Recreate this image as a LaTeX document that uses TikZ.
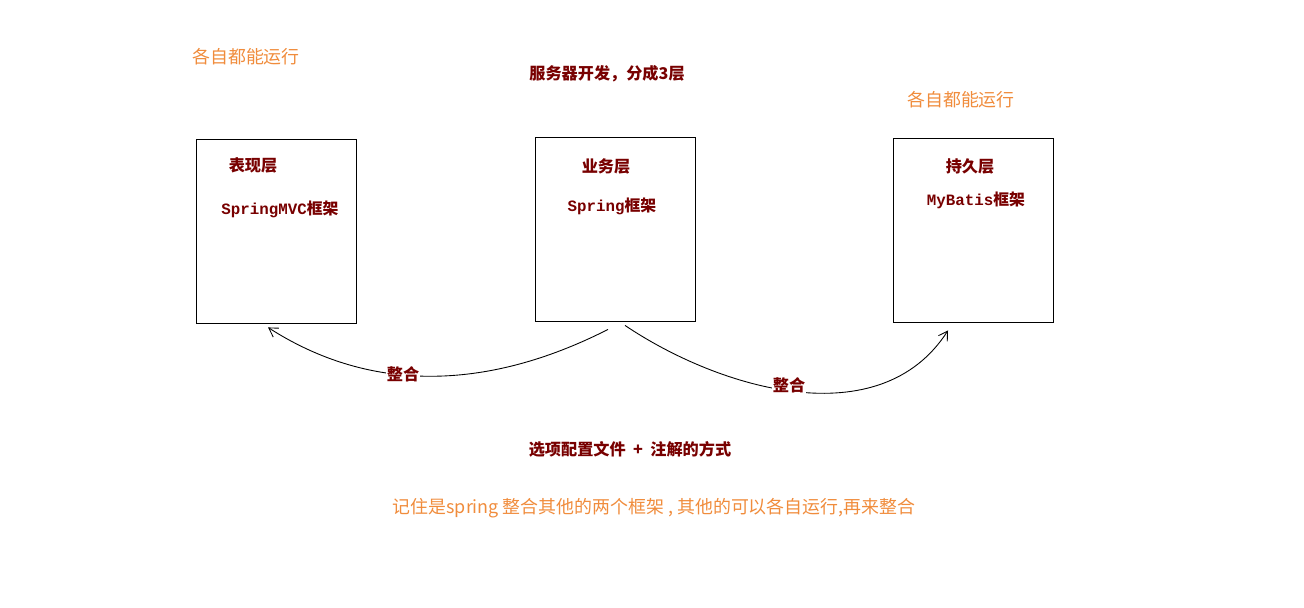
\documentclass[tikz,border=0pt]{standalone}
\usepackage{fontspec}
\newfontfamily\cjk{Noto Sans CJK SC}
\newfontfamily\codefont{Liberation Mono}
\usetikzlibrary{arrows.meta, positioning, calc}

\definecolor{noteorange}{RGB}{240,140,60}
\definecolor{darkred}{RGB}{120,0,0}

\begin{document}
\begin{tikzpicture}[
    x=0.02cm, y=-0.02cm,
    >={Straight Barb[length=5pt, width=6pt]},
    % styles for the layers and the texts
    layer_box/.style={rectangle, draw=black, line width=0.5pt, minimum width=3.2cm, minimum height=3.68cm, inner sep=0pt},
    note_lbl/.style={text=noteorange, font=\cjk\fontsize{10.2}{12}\selectfont, inner sep=1pt},
    head_lbl/.style={text=darkred, font=\cjk\bfseries\fontsize{9.2}{11}\selectfont, inner sep=1pt},
    fw_lbl/.style={text=darkred, font=\bfseries\fontsize{9}{11}\selectfont, inner sep=1pt},
    link_lbl/.style={text=darkred, fill=white, font=\cjk\bfseries\fontsize{9.2}{11}\selectfont, inner sep=0.5pt},
    link/.style={->, line width=0.5pt}
]
    \useasboundingbox (0,0) rectangle (1304,608);

    % --- Titles ---
    \node[note_lbl] (runL) at (246,57) {各自都能运行};
    \node[head_lbl] (title) at (607,74) {服务器开发，分成3层};
    \node[note_lbl] (runR) at (961,100) {各自都能运行};

    % --- The three layers ---
    \node[layer_box] (pres) at (276,231) {};
    \node[layer_box] (biz) at (615,229) {};
    \node[layer_box] (pers) at (973,230) {};

    \node[head_lbl] (presT) at ($(pres) + (-23,-66)$) {表现层};
    \node[fw_lbl] (presF) at ($(pres) + (4,-22)$) {{\codefont SpringMVC}{\cjk 框架}};
    \node[head_lbl] (bizT) at ($(biz) + (-9,-63)$) {业务层};
    \node[fw_lbl] (bizF) at ($(biz) + (-3,-23)$) {{\codefont Spring}{\cjk 框架}};
    \node[head_lbl] (persT) at ($(pers) + (-3,-64)$) {持久层};
    \node[fw_lbl] (persF) at ($(pers) + (3,-30)$) {{\codefont MyBatis}{\cjk 框架}};

    % --- Integration curves ---
    \coordinate (s1) at ($(biz.south) + (-7,8)$);
    \coordinate (e1) at ($(pres.south) + (-8,4)$);
    \coordinate (s2) at ($(biz.south) + (10,4)$);
    \coordinate (e2) at ($(pers.south) + (-25,8)$);

    \draw[link] (s1) .. controls ($(s1) + (-108,55)$) and ($(e1) + (112,72)$) .. (e1);
    \draw[link] (s2) .. controls ($(s2) + (95,64)$) and ($(e2) + (-68,106)$) .. (e2);

    \node[link_lbl] (mergeL) at (403,374) {整合};
    \node[link_lbl] (mergeR) at (789,385) {整合};

    % --- Notes below ---
    \node[head_lbl] (way) at (630,449) {选项配置文件 \ + \ 注解的方式};
    \node[note_lbl] (remember) at (654,508) {记住是spring 整合其他的两个框架 , 其他的可以各自运行,再来整合};

\end{tikzpicture}
\end{document}
